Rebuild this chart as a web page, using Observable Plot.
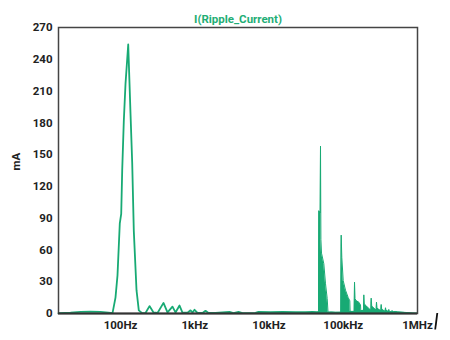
<!DOCTYPE html>
<html>
<head>
<meta charset="utf-8">
<script src="https://cdn.jsdelivr.net/npm/d3@7"></script>
<script src="https://cdn.jsdelivr.net/npm/@observablehq/plot@0.6"></script>
<style>
  html, body { margin: 0; padding: 0; background: #fff; }
  #wrap { position: relative; width: 450px; height: 340px; }
  #mark { position: absolute; left: 0; top: 0; pointer-events: none; }
</style>
</head>
<body>
<div id="wrap"></div>
<script>
// Low-frequency trace (Hz, mA)
const lfFreq = [14.6, 21.2, 28.9, 39.4, 53.7, 68.8, 78.0, 85.5, 91.0, 97.7, 102.1, 105.3, 110.7, 116.7, 126.9, 136.2, 143.6, 150.9, 164.1, 176.2, 195.7,
  216.9, 245.6, 278, 314.7, 379, 429, 501, 550, 623, 683, 798, 876, 932, 992, 1088, 1271, 1395, 1530, 1902, 2936, 3323, 3882, 4393, 6577, 7217, 10471, 15190, 22740, 31010, 38530, 44990];
const lfCurrent = [0.3, 0.8, 1.5, 1.8, 1.5, 0.8, 0.3, 15, 36, 85, 94, 135, 182, 217, 254, 189, 142, 78, 22, 3, 0.3,
  0.5, 7, 1, 0.5, 10, 1, 6.5, 1, 7.5, 0.8, 0.8, 3, 1, 3.5, 0.5, 0.5, 2.5, 0.5, 0.5, 1.5, 0.3, 1.5, 0.3, 0.5, 1.5, 1.3, 1.5, 1.2, 1.3, 1.5, 1.2];

// High-frequency harmonic clusters (dense spectrum envelope)
const hfFreq = [44990, 46410, 46840, 48920, 49370, 49990, 50930, 54700, 57680, 60790, 62320, 69450, 78630,
  92660, 93820, 95590, 99840, 107200, 116600, 122500, 123700,
  140400, 141800, 144000, 149400, 162000, 170700, 172300,
  187400, 189200, 192100, 205600, 218800, 235800, 237900, 241700,
  277800, 280400, 284800, 321500, 324500, 329500, 367300, 370700, 376600,
  406900, 410700, 417100, 452100, 456300, 463400, 505400, 542800, 689100, 856300, 1000000];
const hfCurrent = [1.2, 1.2, 97, 95, 158, 70, 57, 47, 28, 14, 1.2, 1.3, 1.1,
  1.2, 74, 53, 31, 22, 15, 12, 2,
  2, 29.6, 14, 12, 10.7, 8, 2.5,
  3, 17.6, 9, 7, 5, 3, 14.5, 7,
  3, 10.7, 5, 2.5, 8.5, 4, 2, 5.4, 3,
  1.8, 3.8, 2, 1.5, 2.8, 1.5, 1.9, 1.5, 1, 0.4, 0.2];

const xTickValues = [100, 1000, 10000, 100000, 1000000];
const xTickLabels = ["100Hz", "1kHz", "10kHz", "100kHz", "1MHz"];
const yTickValues = [0, 30, 60, 90, 120, 150, 180, 210, 240, 270];
const titleText = "I(Ripple_Current)";
const yLabel = "mA";

const lf = lfFreq.map((f, i) => ({f, v: lfCurrent[i]}));
const hf = hfFreq.map((f, i) => ({f, v: hfCurrent[i]}));

const green = "#18aa74";
const font = "Roboto, 'DejaVu Sans', sans-serif";

const chart = Plot.plot({
  width: 450,
  height: 340,
  marginTop: 27,
  marginBottom: 27,
  marginLeft: 58,
  marginRight: 33,
  style: {fontFamily: font, fontSize: "11.5px", fontWeight: 700, color: "#222", background: "#fff"},
  x: {type: "log", domain: [14.6, 1000000]},
  y: {domain: [0, 270]},
  marks: [
    Plot.areaY(hf, {x: "f", y: "v", fill: green, curve: "linear"}),
    Plot.lineY(hf, {x: "f", y: "v", stroke: green, strokeWidth: 1}),
    Plot.lineY(lf, {x: "f", y: "v", stroke: green, strokeWidth: 1.8, curve: "linear"}),
    Plot.frame({stroke: "#444", strokeWidth: 1.5}),
    Plot.ruleY([0], {stroke: "#333", strokeWidth: 2}),
    Plot.axisX({ticks: xTickValues, tickFormat: d => xTickLabels[xTickValues.indexOf(d)], tickSize: 0, tickPadding: 7, label: null, fill: "#222"}),
    Plot.axisY({ticks: yTickValues, tickSize: 0, tickPadding: 6, label: null, fill: "#222"}),
    Plot.text([titleText], {frameAnchor: "top", dy: -13, text: d => d, fill: "#1fae76", fontSize: 11.5, fontWeight: 700}),
    Plot.text([yLabel], {frameAnchor: "left", dx: -42, rotate: -90, text: d => d, fill: "#222", fontSize: 11.5, fontWeight: 700})
  ]
});
const wrap = document.getElementById("wrap");
wrap.appendChild(chart);
// small stray stroke at lower right of the original image
wrap.insertAdjacentHTML("beforeend", '<svg id="mark" width="450" height="340"><line x1="437.3" y1="313" x2="435.2" y2="329.5" stroke="#111" stroke-width="1.8"/></svg>');
</script>
</body>
</html>
